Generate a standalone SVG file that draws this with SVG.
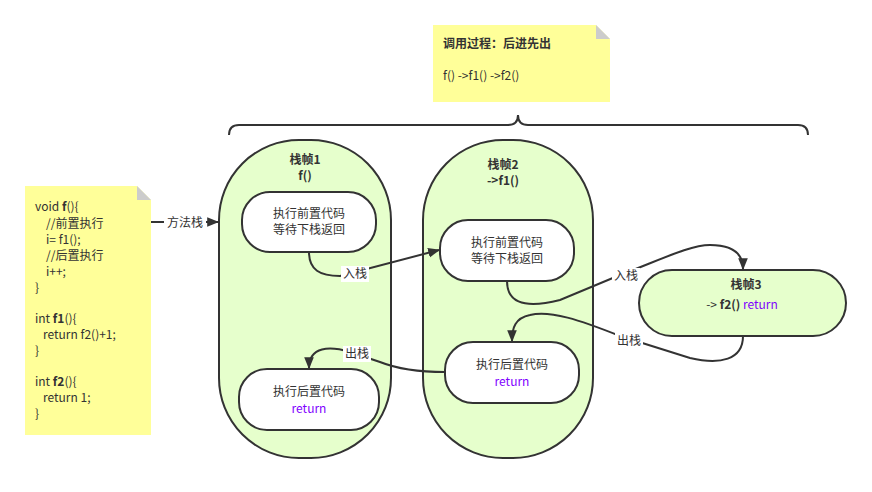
<svg xmlns="http://www.w3.org/2000/svg" width="872" height="492" viewBox="0 0 872 492">
<style>
text{font-family:"Noto Sans CJK SC","Liberation Sans",sans-serif;font-size:12px;fill:#333}
.b{font-weight:bold}
.p{fill:#7f00ff}
.frame{fill:#e6ffcc;stroke:#333;stroke-width:2}
.box{fill:#fff;stroke:#333;stroke-width:2}
.note{fill:#ffff99}
.c{fill:none;stroke:#333;stroke-width:2}
.lbl{fill:#fff}
</style>
<defs><marker id="a" viewBox="0 0 10 10" refX="9" refY="5" markerWidth="7" markerHeight="7" orient="auto-start-reverse" markerUnits="userSpaceOnUse"><path d="M0,0L10,5L0,10z" fill="#333"/></marker>
<marker id="m" viewBox="0 0 10 10" refX="9" refY="5" markerWidth="12" markerHeight="12" orient="auto" markerUnits="userSpaceOnUse"><path d="M0,1L10,5L0,9z" fill="#333"/></marker></defs>
<rect width="872" height="492" fill="#fff"/>
<g id="code-note"><path class="note" d="M25,186H137L151,200V435H25z"/><path d="M137,186L151,200H137z" fill="#ccc"/>
<text x="35" y="211">void <tspan class="b">f</tspan>(){</text>
<text x="46" y="228">//前置执行</text>
<text x="46" y="244">i= f1();</text>
<text x="46" y="260">//后置执行</text>
<text x="46" y="276">i++;</text>
<text x="35" y="292">}</text>
<text x="35" y="323">int <tspan class="b">f1</tspan>(){</text>
<text x="43" y="339">return  f2()+1;</text>
<text x="35" y="355">}</text>
<text x="35" y="386">int <tspan class="b">f2</tspan>(){</text>
<text x="43" y="402">return 1;</text>
<text x="35" y="418">}</text></g>
<g id="title-note"><path class="note" d="M433,25H596L610,39V102H433z"/><path d="M596,25L610,39H596z" fill="#ccc"/>
<text x="443" y="48" class="b">调用过程：后进先出</text>
<text x="443" y="80">f() -&gt;f1() -&gt;f2()</text></g>
<g id="brace"><path class="c" d="M229,135Q229,125 239,125H508Q518,125 518,115Q518,125 528,125H798Q808,125 808,135"/></g>
<g id="frame1"><rect class="frame" x="219" y="140" width="172" height="318" rx="80"/>
<text x="305" y="164" text-anchor="middle" class="b">栈帧1</text><text x="305" y="180" text-anchor="middle" class="b">f()</text></g>
<g id="frame2"><rect class="frame" x="423" y="140" width="170" height="318" rx="80"/>
<text x="503" y="169" text-anchor="middle" class="b">栈帧2</text><text x="503" y="185" text-anchor="middle" class="b">-&gt;f1()</text></g>
<g id="f1-pre"><rect class="box" x="242" y="192" width="134" height="60" rx="28"/>
<text x="309" y="218" text-anchor="middle">执行前置代码</text><text x="309" y="234" text-anchor="middle">等待下栈返回</text></g>
<g id="f1-post"><rect class="box" x="239" y="369" width="140" height="61" rx="28"/>
<text x="309" y="396" text-anchor="middle">执行后置代码</text><text x="309" y="413" text-anchor="middle" class="p">return</text></g>
<g id="f2-pre"><rect class="box" x="440" y="220" width="134" height="61" rx="28"/>
<text x="507" y="247" text-anchor="middle">执行前置代码</text><text x="507" y="263" text-anchor="middle">等待下栈返回</text></g>
<g id="f2-post"><rect class="box" x="445" y="342" width="134" height="61" rx="28"/>
<text x="512" y="369" text-anchor="middle">执行后置代码</text><text x="512" y="386" text-anchor="middle" class="p">return</text></g>
<g id="frame3"><rect class="frame" x="639" y="270" width="207" height="66" rx="33"/>
<text x="746" y="289" text-anchor="middle" class="b">栈帧3</text>
<text x="742" y="309" text-anchor="middle">-&gt; <tspan class="b">f2()</tspan> <tspan class="p">return</tspan></text></g>
<g id="connectors">
<path class="c" d="M151,222H218" marker-end="url(#m)"/>
<path class="c" d="M309,252C309,270 320,276 340,276L439,250" marker-end="url(#m)"/>
<path class="c" d="M507,281C507,300 520,310 560,300L620,275C660,260 690,245 710,245C735,245 743,255 743,269" marker-end="url(#m)"/>
<path class="c" d="M743,336C743,360 720,365 690,358L620,336C580,320 550,310 530,315C515,318 512,328 512,341" marker-end="url(#m)"/>
<path class="c" d="M445,372C420,372 400,370 380,362L350,352C330,346 309,346 309,368" marker-end="url(#m)"/>
<rect class="lbl" x="164" y="214" width="42" height="16"/><text x="185" y="227" text-anchor="middle">方法栈</text>
<rect class="lbl" x="341" y="266" width="28" height="16"/><text x="355" y="278" text-anchor="middle">入栈</text>
<rect class="lbl" x="612" y="268" width="28" height="16"/><text x="626" y="280" text-anchor="middle">入栈</text>
<rect class="lbl" x="615" y="333" width="28" height="16"/><text x="629" y="345" text-anchor="middle">出栈</text>
<rect class="lbl" x="343" y="346" width="28" height="16"/><text x="357" y="358" text-anchor="middle">出栈</text>
</g>
</svg>
